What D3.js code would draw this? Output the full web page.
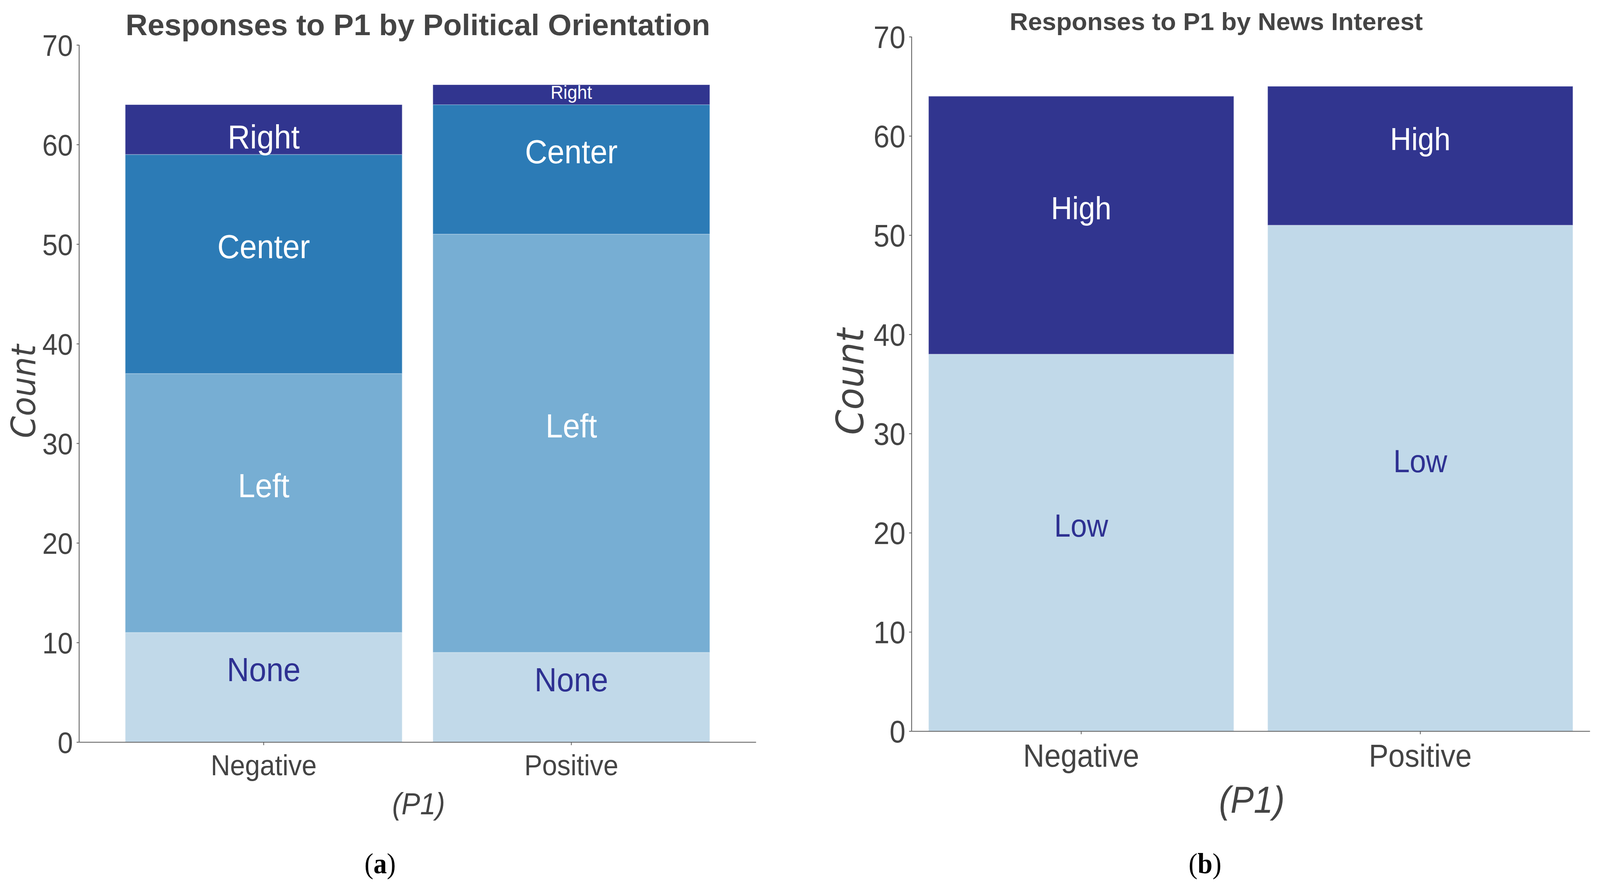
<!DOCTYPE html>
<html>
<head>
<meta charset="utf-8">
<script src="https://cdn.jsdelivr.net/npm/d3@7"></script>
<style>
  html, body { margin: 0; padding: 0; width: 100%; height: 100%; overflow: hidden; background: #fff; }
  svg { display: block; width: 100vw; height: 100vh; }
</style>
</head>
<body>
<script>
// panel (a): political orientation
var p1Groups = ['Negative', 'Positive'];
var orientKeys = ['None', 'Left', 'Center', 'Right'];
var orientNone = [11, 9];
var orientLeft = [26, 42];
var orientCenter = [22, 13];
var orientRight = [5, 2];

// panel (b): news interest
var newsKeys = ['Low', 'High'];
var newsLow = [38, 51];
var newsHigh = [26, 14];

var yTicks = [0, 10, 20, 30, 40, 50, 60, 70];

var W = 4407, H = 2266;
var axisColor = '#555', textColor = '#444', darkBlue = '#31358f';

// window may be narrower than the figure, so stretch the drawing to fill it
var svg = d3.select('body').append('svg')
	.attr('viewBox', `0 0 ${W} ${H}`)
	.attr('preserveAspectRatio', 'none');

function drawPanel(opts){
	var g = svg.append('g');

	var x = d3.scaleBand()
		.domain(p1Groups)
		.range([opts.left, opts.right])
		.paddingInner(0.1)
		.paddingOuter(opts.outer);

	var y = d3.scaleLinear()
		.domain([0, 70])
		.range([opts.bottom, opts.top]);

	var rows = p1Groups.map(function(grp, i){
		var row = {group: grp};
		opts.keys.forEach(function(k, j){ row[k] = opts.series[j][i]; });
		return row;
	});
	var stacked = d3.stack().keys(opts.keys)(rows);

	// segments
	stacked.forEach(function(layer, li){
		g.append('g').selectAll('rect')
			.data(layer)
			.join('rect')
			.attr('x', d => x(d.data.group))
			.attr('width', x.bandwidth())
			.attr('y', d => y(d[1]))
			.attr('height', d => y(d[0]) - y(d[1]))
			.attr('fill', opts.colors[li])
			.attr('stroke', 'rgba(255,255,255,0.25)')
			.attr('stroke-width', 2);
	});

	// segment labels
	stacked.forEach(function(layer, li){
		var key = layer.key;
		g.append('g').selectAll('text')
			.data(layer)
			.join('text')
			.attr('x', d => x(d.data.group) + x.bandwidth() / 2)
			.attr('y', d => {
				var v = opts.atBottom && opts.atBottom(key) ? d[0] + 0.6 : (d[0] + d[1]) / 2 + 0.6;
				return y(v);
			})
			.attr('text-anchor', 'middle')
			.style('font-family', '"Liberation Sans", Arial, sans-serif')
			.style('font-size', d => ((d[1] - d[0]) < 3 ? opts.smallLabel : opts.labelSize) + 'px')
			.style('fill', opts.labelColors[li])
			.text(key);
	});

	// y axis
	var yAxis = g.append('g')
		.attr('transform', `translate(${opts.left},0)`)
		.call(d3.axisLeft(y).tickValues(yTicks).tickSize(7).tickPadding(10));
	// x axis
	var xAxis = g.append('g')
		.attr('transform', `translate(0,${opts.bottom})`)
		.call(d3.axisBottom(x).tickSize(8).tickPadding(opts.xPad).tickSizeOuter(0));

	[yAxis, xAxis].forEach(function(ax){
		ax.select('.domain').attr('stroke', axisColor).attr('stroke-width', 2.2);
		ax.selectAll('.tick line').attr('stroke', axisColor).attr('stroke-width', 2);
		ax.selectAll('.tick text')
			.style('font-family', '"Liberation Sans", Arial, sans-serif')
			.style('fill', textColor);
	});
	yAxis.select('.domain').attr('d', `M0,${opts.bottom}V${opts.top}`);
	yAxis.selectAll('.tick text').style('font-size', opts.yTickSize + 'px').attr('dy', '0.36em');
	xAxis.selectAll('.tick text').style('font-size', opts.xTickSize + 'px');

	// title
	g.append('text')
		.attr('x', opts.titleX)
		.attr('y', opts.titleY)
		.attr('text-anchor', 'middle')
		.attr('textLength', opts.titleLen)
		.attr('lengthAdjust', 'spacingAndGlyphs')
		.style('font-family', '"Liberation Sans", Arial, sans-serif')
		.style('font-weight', 'bold')
		.style('font-size', opts.titleSize + 'px')
		.style('fill', textColor)
		.text(opts.title);

	// y label
	g.append('text')
		.attr('transform', `translate(${opts.countX},${opts.countY}) rotate(-90)`)
		.attr('text-anchor', 'middle')
		.attr('textLength', opts.countLen)
		.attr('lengthAdjust', 'spacingAndGlyphs')
		.style('font-family', '"DejaVu Sans", sans-serif')
		.style('font-style', 'oblique')
		.style('font-size', opts.countSize + 'px')
		.style('fill', textColor)
		.text('Count');

	// x label
	g.append('text')
		.attr('x', (opts.left + opts.right) / 2 + 3)
		.attr('y', opts.p1Y)
		.attr('text-anchor', 'middle')
		.style('font-family', '"Liberation Sans", Arial, sans-serif')
		.style('font-style', 'italic')
		.style('font-size', opts.p1Size + 'px')
		.style('fill', textColor)
		.text('(P1)');

	// sub caption
	var cap = g.append('text')
		.attr('x', opts.capX)
		.attr('y', 2236)
		.attr('text-anchor', 'middle')
		.style('font-family', '"Liberation Serif", "Times New Roman", serif')
		.style('font-size', '74px')
		.style('fill', '#000');
	cap.append('tspan').text('(');
	cap.append('tspan').style('font-weight', 'bold').text(opts.cap);
	cap.append('tspan').text(')');
}

drawPanel({
	left: 218, right: 2082, outer: 0.15, top: 115, bottom: 1900,
	keys: orientKeys,
	series: [orientNone, orientLeft, orientCenter, orientRight],
	colors: ['#c1d9e9', '#77aed3', '#2c7bb6', darkBlue],
	labelColors: ['#2e3192', '#fff', '#fff', '#fff'],
	atBottom: k => k === 'Right',
	labelSize: 85, smallLabel: 49,
	yTickSize: 76, xTickSize: 74, xPad: 24,
	title: 'Responses to P1 by Political Orientation',
	titleX: 1151, titleY: 90, titleSize: 76, titleLen: 1610,
	countX: 97, countY: 1002, countSize: 92, countLen: 240,
	p1Y: 2085, p1Size: 77,
	capX: 1047, cap: 'a'
});

drawPanel({
	left: 2511, right: 4379, outer: 0.05, top: 94, bottom: 1872,
	keys: newsKeys,
	series: [newsLow, newsHigh],
	colors: ['#c1d9e9', darkBlue],
	labelColors: ['#2e3192', '#fff'],
	labelSize: 81, smallLabel: 81,
	yTickSize: 79, xTickSize: 81, xPad: 26,
	title: 'Responses to P1 by News Interest',
	titleX: 3350, titleY: 77, titleSize: 63, titleLen: 1138,
	countX: 2378, countY: 977, countSize: 104, countLen: 273,
	p1Y: 2081, p1Size: 96,
	capX: 3319, cap: 'b'
});
</script>
</body>
</html>
